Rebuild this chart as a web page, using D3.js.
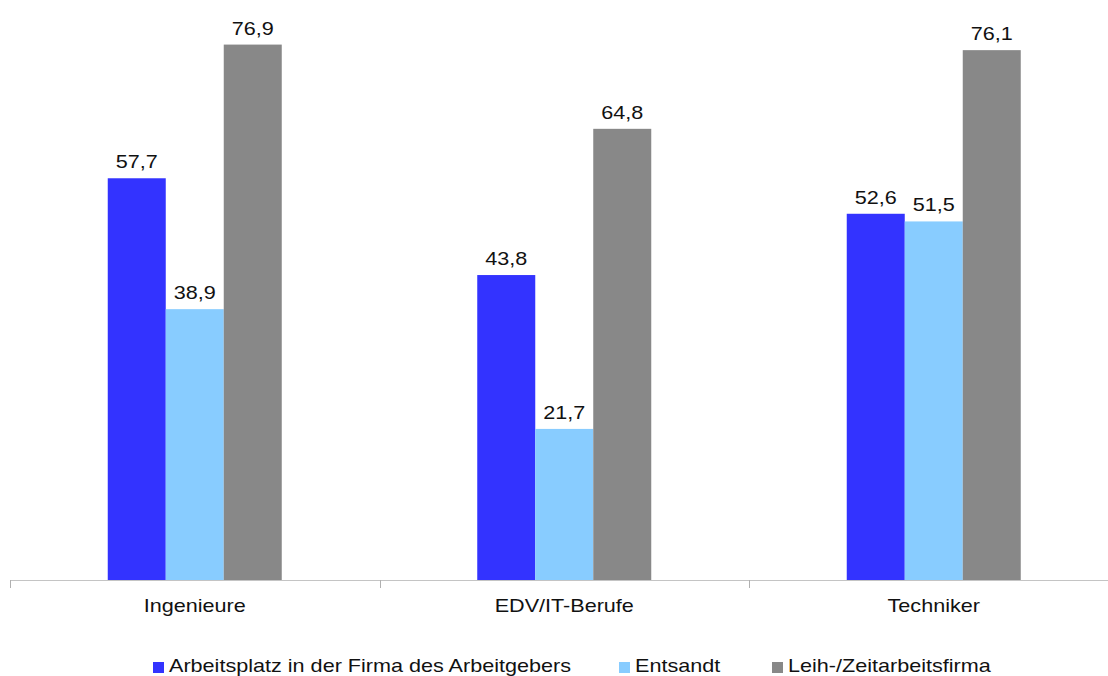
<!DOCTYPE html>
<html><head><meta charset="utf-8">
<script src="https://cdn.jsdelivr.net/npm/d3@7"></script>
<style>
html,body{margin:0;padding:0;background:#fff;}
text{font-family:"Liberation Sans",Arial,sans-serif;fill:#111;}
</style></head>
<body><svg id="c" width="1108" height="676"></svg>
<script>
const categories = ["Ingenieure", "EDV/IT-Berufe", "Techniker"];
const seriesNames = ["Arbeitsplatz in der Firma des Arbeitgebers", "Entsandt", "Leih-/Zeitarbeitsfirma"];
const arbeitsplatz = [57.7, 43.8, 52.6];
const entsandt = [38.9, 21.7, 51.5];
const leih = [76.9, 64.8, 76.1];
const colors = ["#3333FF", "#88CCFF", "#888888"];

const seriesValues = [arbeitsplatz, entsandt, leih];
const svg = d3.select("#c");
const baseY = 580;
const sx = 1.2; // horizontal text stretch

const x = d3.scaleBand().domain(categories).range([10, 10 + 3 * 369.5]).padding(0);
const y = d3.scaleLinear().domain([0, 80]).range([baseY, baseY - 557]);
const inner = d3.scaleBand().domain(seriesNames).range([x.bandwidth() / 2 - 87, x.bandwidth() / 2 + 87]).padding(0);

function stretchedText(g, tx, ty, str, anchor) {
  g.append("text")
    .attr("transform", `translate(${tx},${ty}) scale(${sx},1)`)
    .attr("text-anchor", anchor || "middle")
    .style("font-size", "18px")
    .text(str);
}

// bars
const groups = svg.selectAll("g.cat").data(categories).enter().append("g")
  .attr("class", "cat").attr("transform", d => `translate(${x(d)},0)`);

seriesNames.forEach((s, si) => {
  groups.append("rect")
    .attr("x", inner(s))
    .attr("width", inner.bandwidth())
    .attr("y", (d, ci) => y(seriesValues[si][ci]))
    .attr("height", (d, ci) => y(0) - y(seriesValues[si][ci]))
    .attr("fill", colors[si]);
  groups.each(function (d, ci) {
    const v = seriesValues[si][ci];
    stretchedText(d3.select(this), inner(s) + inner.bandwidth() / 2, y(v) - 10, v.toFixed(1).replace(".", ","));
  });
});

// axis
const axisG = svg.append("g");
axisG.append("line").attr("x1", 10).attr("x2", 1108).attr("y1", baseY + 0.5).attr("y2", baseY + 0.5)
  .attr("stroke", "#c4c4c4").attr("stroke-width", 1.2);
categories.forEach(c => {
  axisG.append("line").attr("x1", Math.round(x(c)) + 0.5).attr("x2", Math.round(x(c)) + 0.5)
    .attr("y1", baseY).attr("y2", baseY + 8).attr("stroke", "#b0b0b0").attr("stroke-width", 1);
  stretchedText(axisG, x(c) + x.bandwidth() / 2, 612, c);
});

// legend
const legendX = [153, 619, 772];
const legend = svg.append("g");
seriesNames.forEach((s, i) => {
  legend.append("rect").attr("x", legendX[i]).attr("y", 662).attr("width", 11).attr("height", 11).attr("fill", colors[i]);
  stretchedText(legend, legendX[i] + 16, 672, s, "start");
});
</script></body></html>
